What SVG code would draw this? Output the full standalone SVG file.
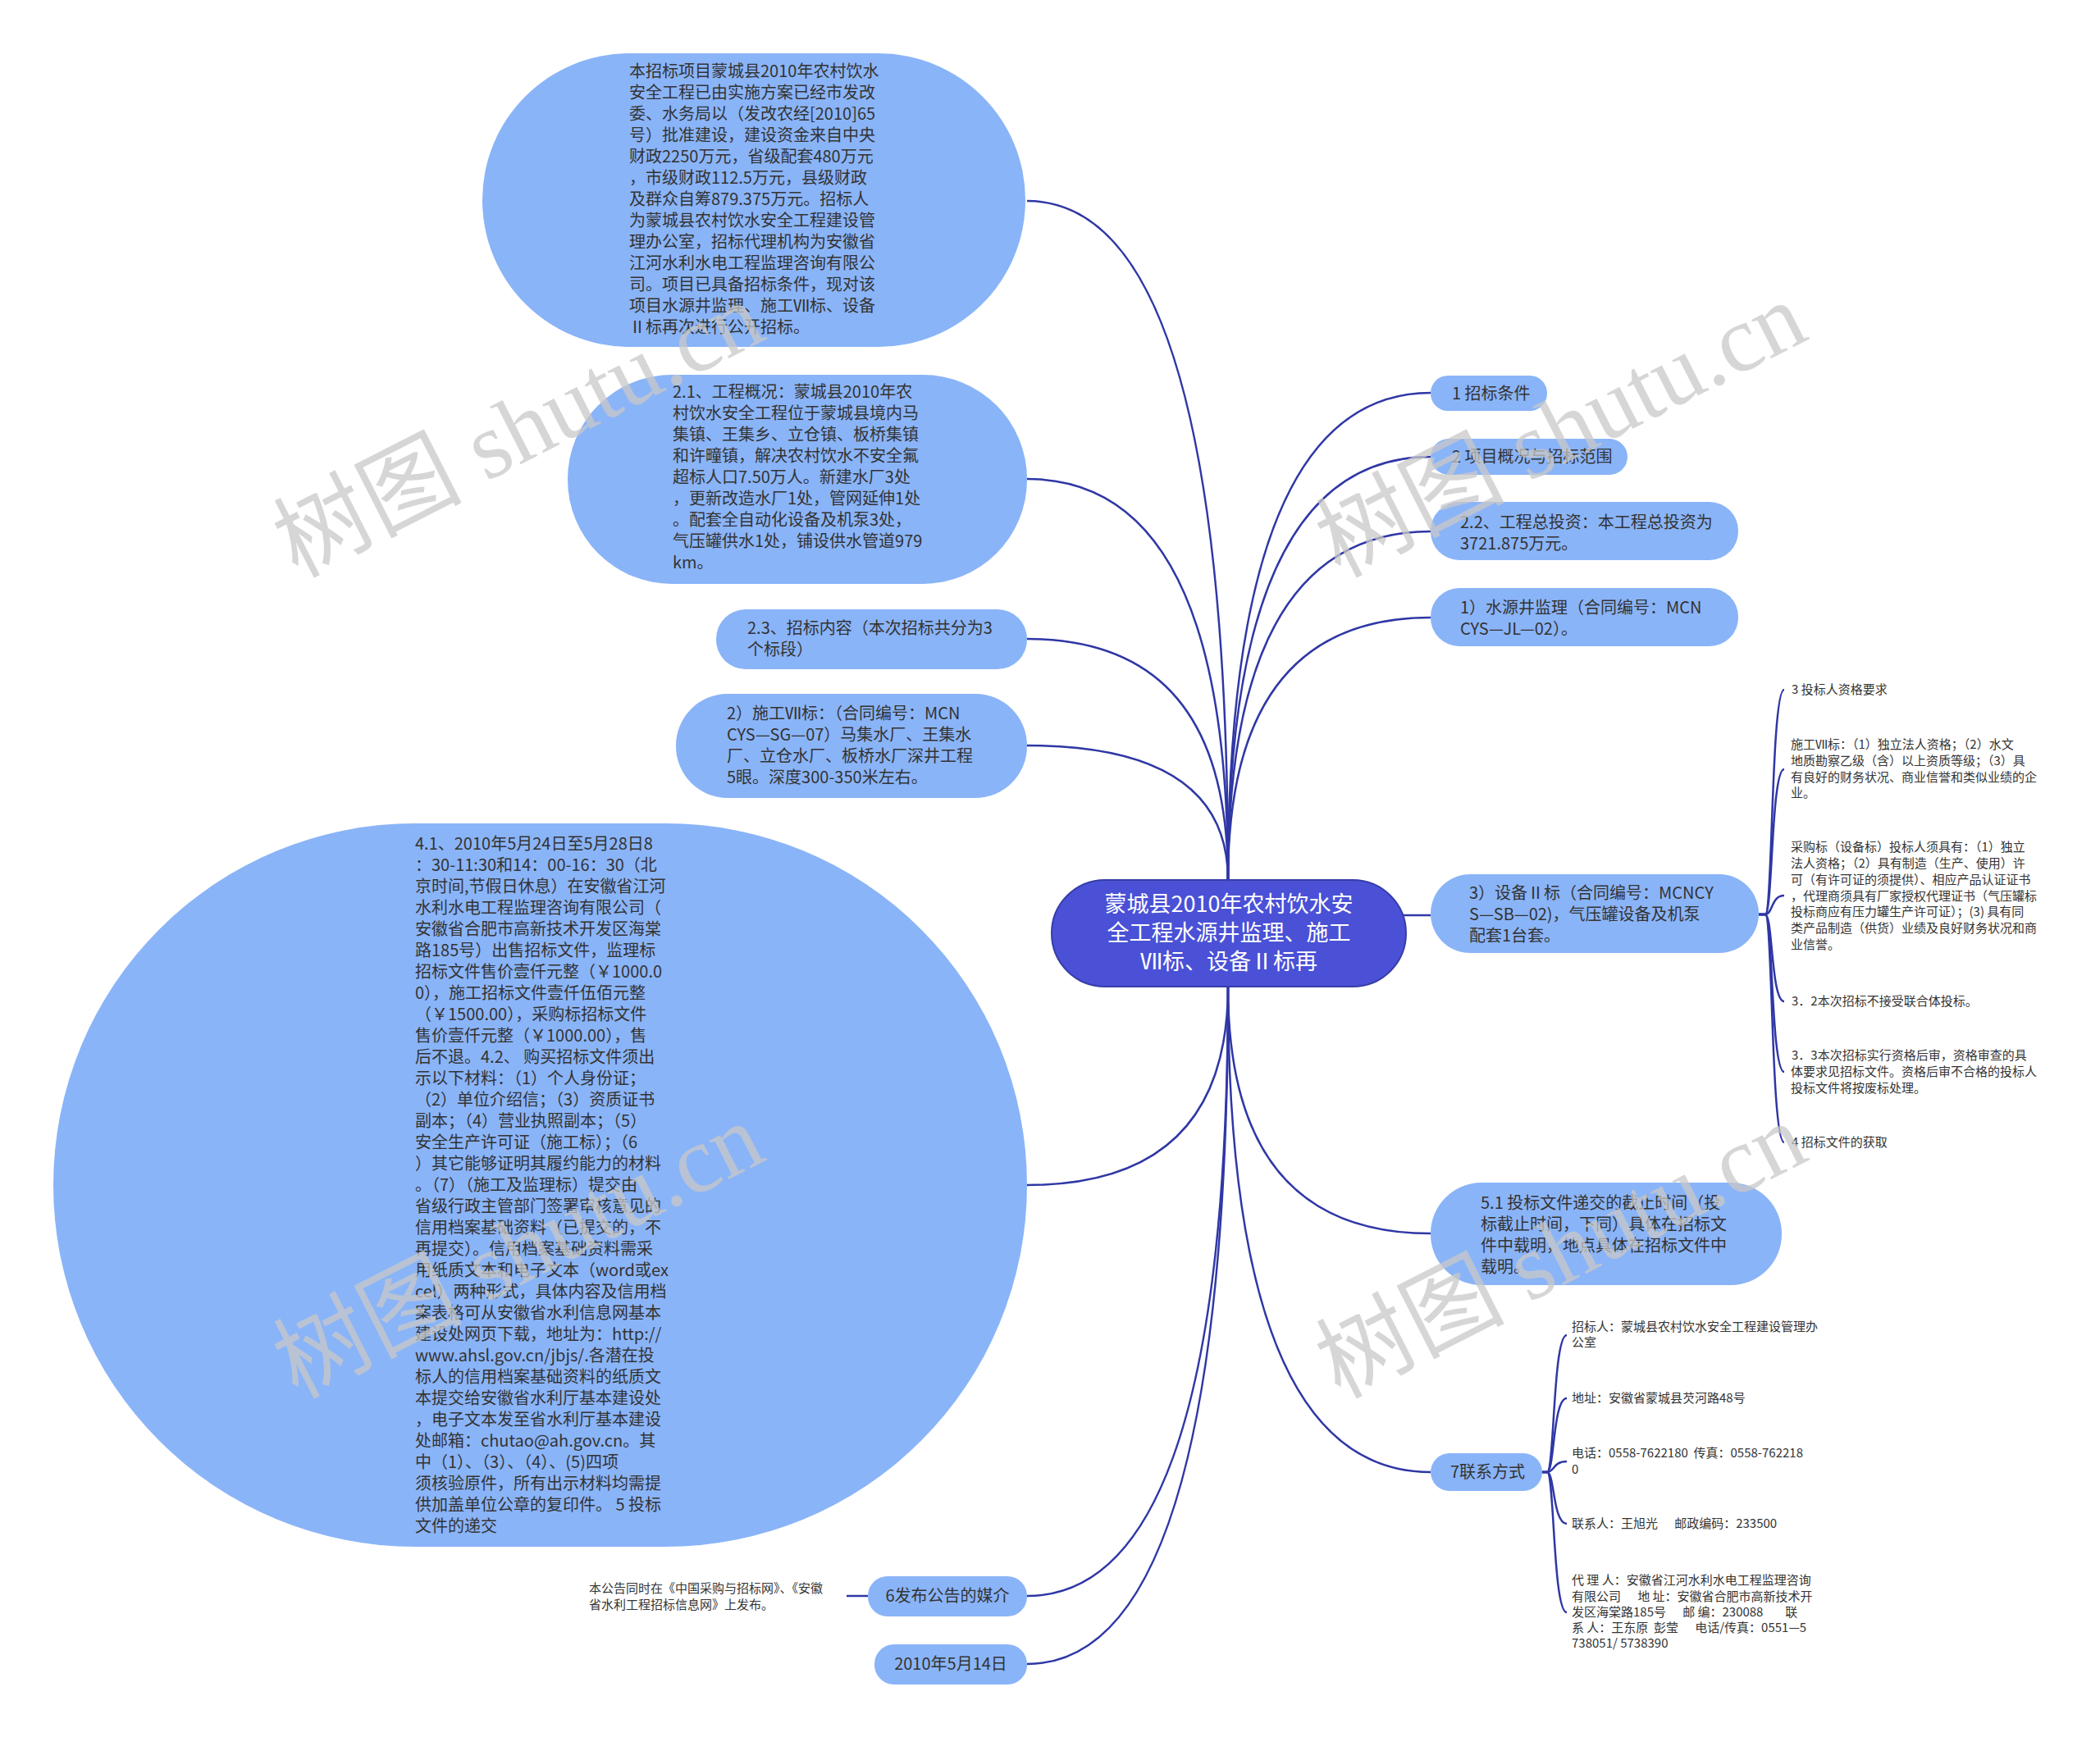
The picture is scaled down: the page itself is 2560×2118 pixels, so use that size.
<svg xmlns="http://www.w3.org/2000/svg" width="2560" height="2118" viewBox="0 0 2560 2118">
<style>
.nd{fill:#8ab4f8;}
.t{font-family:"Noto Sans CJK SC","Liberation Sans",sans-serif;font-size:20px;fill:#333;}
.s{font-family:"Noto Sans CJK SC","Liberation Sans",sans-serif;font-size:15px;fill:#333;white-space:pre;}
.ct{font-family:"Noto Sans CJK SC","Liberation Sans",sans-serif;font-size:27px;fill:#fff;text-anchor:middle;}
.e{fill:none;stroke:#2f37a5;stroke-width:2.5;}
.wm{font-family:"Liberation Serif","Noto Sans CJK SC",serif;font-size:115px;fill:#c8c8c8;fill-opacity:0.75;}
</style>
<rect width="2560" height="2118" fill="#fff"/>
<g id="connectors">
<path class="e" d="M1497,1073 Q1497,245 1252,245"/>
<path class="e" d="M1497,1073 Q1497,584 1252,584"/>
<path class="e" d="M1497,1073 Q1497,779 1252,779"/>
<path class="e" d="M1497,1073 Q1497,909 1252,909"/>
<path class="e" d="M1497,1073 Q1497,479 1744,479"/>
<path class="e" d="M1497,1073 Q1497,557 1744,557"/>
<path class="e" d="M1497,1073 Q1497,648 1744,648"/>
<path class="e" d="M1497,1073 Q1497,753 1744,753"/>
<path class="e" d="M1700,1116 L1744,1116"/>
<path class="e" d="M1497,1203 Q1497,1445 1252,1445"/>
<path class="e" d="M1497,1203 Q1497,1946 1252,1946"/>
<path class="e" d="M1497,1203 Q1497,2029 1252,2029"/>
<path class="e" d="M1497,1203 Q1497,1504 1744,1504"/>
<path class="e" d="M1497,1203 Q1497,1795 1744,1795"/>
<path class="e" d="M1032,1946 L1058,1946"/>
<path class="e" d="M2144,1115 L2152,1115 C2161,1115 2159,841 2175,841"/>
<path class="e" d="M2144,1115 L2152,1115 C2161,1115 2159,938 2175,938"/>
<path class="e" d="M2144,1115 L2152,1115 C2161,1115 2159,1092 2175,1092"/>
<path class="e" d="M2144,1115 L2152,1115 C2161,1115 2159,1221 2175,1221"/>
<path class="e" d="M2144,1115 L2152,1115 C2161,1115 2159,1307 2175,1307"/>
<path class="e" d="M2144,1115 L2152,1115 C2161,1115 2159,1393 2175,1393"/>
<path class="e" d="M1878,1795 L1886,1795 C1895,1795 1893,1628 1910,1628"/>
<path class="e" d="M1878,1795 L1886,1795 C1895,1795 1893,1705 1910,1705"/>
<path class="e" d="M1878,1795 L1886,1795 C1895,1795 1893,1782 1910,1782"/>
<path class="e" d="M1878,1795 L1886,1795 C1895,1795 1893,1858 1910,1858"/>
<path class="e" d="M1878,1795 L1886,1795 C1895,1795 1893,1966 1910,1966"/>
</g>
<g id="center">
<rect x="1282" y="1073" width="432" height="130" rx="65" fill="#4a51d6" stroke="#363da8" stroke-width="2"/>
<text class="ct"><tspan x="1498" y="1112">蒙城县2010年农村饮水安</tspan><tspan x="1498" y="1147">全工程水源井监理、施工</tspan><tspan x="1498" y="1182">Ⅶ标、设备Ⅱ标再</tspan></text>
</g>
<g id="node-a">
<rect class="nd" x="588" y="65" width="662" height="358" rx="179"/>
<text class="t"><tspan x="767" y="94">本招标项目蒙城县2010年农村饮水</tspan><tspan x="767" y="120">安全工程已由实施方案已经市发改</tspan><tspan x="767" y="146">委、水务局以（发改农经[2010]65</tspan><tspan x="767" y="172">号）批准建设，建设资金来自中央</tspan><tspan x="767" y="198">财政2250万元，省级配套480万元</tspan><tspan x="767" y="224">，市级财政112.5万元，县级财政</tspan><tspan x="767" y="250">及群众自筹879.375万元。招标人</tspan><tspan x="767" y="276">为蒙城县农村饮水安全工程建设管</tspan><tspan x="767" y="302">理办公室，招标代理机构为安徽省</tspan><tspan x="767" y="328">江河水利水电工程监理咨询有限公</tspan><tspan x="767" y="354">司。项目已具备招标条件，现对该</tspan><tspan x="767" y="380">项目水源井监理、施工Ⅶ标、设备</tspan><tspan x="767" y="406">Ⅱ标再次进行公开招标。</tspan></text>
</g>
<g id="node-b">
<rect class="nd" x="692" y="457" width="560" height="255" rx="127"/>
<text class="t"><tspan x="820" y="485">2.1、工程概况：蒙城县2010年农</tspan><tspan x="820" y="511">村饮水安全工程位于蒙城县境内马</tspan><tspan x="820" y="537">集镇、王集乡、立仓镇、板桥集镇</tspan><tspan x="820" y="563">和许疃镇，解决农村饮水不安全氟</tspan><tspan x="820" y="589">超标人口7.50万人。新建水厂3处</tspan><tspan x="820" y="615">，更新改造水厂1处，管网延伸1处</tspan><tspan x="820" y="641">。配套全自动化设备及机泵3处，</tspan><tspan x="820" y="667">气压罐供水1处，铺设供水管道979</tspan><tspan x="820" y="693">km。</tspan></text>
</g>
<g id="node-c">
<rect class="nd" x="873" y="743" width="379" height="73" rx="36"/>
<text class="t"><tspan x="911" y="773">2.3、招标内容（本次招标共分为3</tspan><tspan x="911" y="799">个标段）</tspan></text>
</g>
<g id="node-d">
<rect class="nd" x="824" y="846" width="428" height="127" rx="63"/>
<text class="t"><tspan x="886" y="877">2）施工Ⅶ标：（合同编号：MCN</tspan><tspan x="886" y="903">CYS—SG—07）马集水厂、王集水</tspan><tspan x="886" y="929">厂、立仓水厂、板桥水厂深井工程</tspan><tspan x="886" y="955">5眼。深度300-350米左右。</tspan></text>
</g>
<g id="node-e">
<rect class="nd" x="65" y="1004" width="1187" height="882" rx="441"/>
<text class="t"><tspan x="506" y="1036">4.1、2010年5月24日至5月28日8</tspan><tspan x="506" y="1062">：30-11:30和14：00-16：30（北</tspan><tspan x="506" y="1088">京时间,节假日休息）在安徽省江河</tspan><tspan x="506" y="1114">水利水电工程监理咨询有限公司（</tspan><tspan x="506" y="1140">安徽省合肥市高新技术开发区海棠</tspan><tspan x="506" y="1166">路185号）出售招标文件，监理标</tspan><tspan x="506" y="1192">招标文件售价壹仟元整（￥1000.0</tspan><tspan x="506" y="1218">0），施工招标文件壹仟伍佰元整</tspan><tspan x="506" y="1244">（￥1500.00），采购标招标文件</tspan><tspan x="506" y="1270">售价壹仟元整（￥1000.00），售</tspan><tspan x="506" y="1296">后不退。4.2、 购买招标文件须出</tspan><tspan x="506" y="1322">示以下材料：（1）个人身份证；</tspan><tspan x="506" y="1348">（2）单位介绍信；（3）资质证书</tspan><tspan x="506" y="1374">副本；（4）营业执照副本；（5）</tspan><tspan x="506" y="1400">安全生产许可证（施工标）；（6</tspan><tspan x="506" y="1426">）其它能够证明其履约能力的材料</tspan><tspan x="506" y="1452">。（7）（施工及监理标）提交由</tspan><tspan x="506" y="1478">省级行政主管部门签署审核意见的</tspan><tspan x="506" y="1504">信用档案基础资料（已提交的，不</tspan><tspan x="506" y="1530">再提交）。信用档案基础资料需采</tspan><tspan x="506" y="1556">用纸质文本和电子文本（word或ex</tspan><tspan x="506" y="1582">cel）两种形式，具体内容及信用档</tspan><tspan x="506" y="1608">案表格可从安徽省水利信息网基本</tspan><tspan x="506" y="1634">建设处网页下载，地址为：http://</tspan><tspan x="506" y="1660">www.ahsl.gov.cn/jbjs/.各潜在投</tspan><tspan x="506" y="1686">标人的信用档案基础资料的纸质文</tspan><tspan x="506" y="1712">本提交给安徽省水利厅基本建设处</tspan><tspan x="506" y="1738">，电子文本发至省水利厅基本建设</tspan><tspan x="506" y="1764">处邮箱：chutao@ah.gov.cn。其</tspan><tspan x="506" y="1790">中（1）、（3）、（4）、(5)四项</tspan><tspan x="506" y="1816">须核验原件，所有出示材料均需提</tspan><tspan x="506" y="1842">供加盖单位公章的复印件。 5 投标</tspan><tspan x="506" y="1868">文件的递交</tspan></text>
</g>
<g id="node-f">
<rect class="nd" x="1058" y="1922" width="194" height="49" rx="24"/>
<text class="t" x="1155" y="1953" text-anchor="middle">6发布公告的媒介</text>
</g>
<g id="node-f1">
<text class="s"><tspan x="718" y="1942">本公告同时在《中国采购与招标网》、《安徽</tspan><tspan x="718" y="1962">省水利工程招标信息网》上发布。</tspan></text>
</g>
<g id="node-g">
<rect class="nd" x="1066" y="2005" width="186" height="49" rx="24"/>
<text class="t" x="1159" y="2036" text-anchor="middle">2010年5月14日</text>
</g>
<g id="node-h">
<rect class="nd" x="1744" y="458" width="142" height="43" rx="21"/>
<text class="t" x="1770" y="487">1 招标条件</text>
</g>
<g id="node-i">
<rect class="nd" x="1744" y="535" width="240" height="44" rx="22"/>
<text class="t" x="1770" y="564">2 项目概况与招标范围</text>
</g>
<g id="node-j">
<rect class="nd" x="1744" y="612" width="375" height="71" rx="35"/>
<text class="t"><tspan x="1780" y="644">2.2、工程总投资：本工程总投资为</tspan><tspan x="1780" y="670">3721.875万元。</tspan></text>
</g>
<g id="node-k">
<rect class="nd" x="1744" y="717" width="375" height="71" rx="35"/>
<text class="t"><tspan x="1780" y="748">1）水源井监理（合同编号：MCN</tspan><tspan x="1780" y="774">CYS—JL—02）。</tspan></text>
</g>
<g id="node-l">
<rect class="nd" x="1744" y="1066" width="400" height="96" rx="48"/>
<text class="t"><tspan x="1791" y="1096">3）设备Ⅱ标（合同编号：MCNCY</tspan><tspan x="1791" y="1122">S—SB—02)，气压罐设备及机泵</tspan><tspan x="1791" y="1148">配套1台套。</tspan></text>
</g>
<g id="node-l1"><text class="s" x="2184" y="846">3 投标人资格要求</text></g>
<g id="node-l2"><text class="s"><tspan x="2183" y="913">施工Ⅶ标：（1）独立法人资格；（2）水文</tspan><tspan x="2183" y="933">地质勘察乙级（含）以上资质等级；（3）具</tspan><tspan x="2183" y="953">有良好的财务状况、商业信誉和类似业绩的企</tspan><tspan x="2183" y="972">业。</tspan></text></g>
<g id="node-l3"><text class="s"><tspan x="2183" y="1038">采购标（设备标）投标人须具有：（1）独立</tspan><tspan x="2183" y="1058">法人资格；（2）具有制造（生产、使用）许</tspan><tspan x="2183" y="1078">可（有许可证的须提供）、相应产品认证证书</tspan><tspan x="2183" y="1098">，代理商须具有厂家授权代理证书（气压罐标</tspan><tspan x="2183" y="1117">投标商应有压力罐生产许可证）；(3) 具有同</tspan><tspan x="2183" y="1137">类产品制造（供货）业绩及良好财务状况和商</tspan><tspan x="2183" y="1157">业信誉。</tspan></text></g>
<g id="node-l4"><text class="s" x="2184" y="1226">3．2本次招标不接受联合体投标。</text></g>
<g id="node-l5"><text class="s"><tspan x="2184" y="1292">3．3本次招标实行资格后审，资格审查的具</tspan><tspan x="2183" y="1312">体要求见招标文件。资格后审不合格的投标人</tspan><tspan x="2183" y="1332">投标文件将按废标处理。</tspan></text></g>
<g id="node-l6"><text class="s" x="2184" y="1398">4 招标文件的获取</text></g>
<g id="node-m">
<rect class="nd" x="1744" y="1442" width="428" height="125" rx="62"/>
<text class="t"><tspan x="1805" y="1474">5.1 投标文件递交的截止时间（投</tspan><tspan x="1805" y="1500">标截止时间，下同）具体在招标文</tspan><tspan x="1805" y="1526">件中载明，地点具体在招标文件中</tspan><tspan x="1805" y="1552">载明。</tspan></text>
</g>
<g id="node-n">
<rect class="nd" x="1744" y="1772" width="136" height="46" rx="23"/>
<text class="t" x="1768" y="1802">7联系方式</text>
</g>
<g id="node-n1"><text class="s"><tspan x="1916" y="1623">招标人：蒙城县农村饮水安全工程建设管理办</tspan><tspan x="1916" y="1642">公室</tspan></text></g>
<g id="node-n2"><text class="s" x="1916" y="1710">地址：安徽省蒙城县芡河路48号</text></g>
<g id="node-n3"><text class="s"><tspan x="1916" y="1777">电话：0558-7622180  传真：0558-762218</tspan><tspan x="1916" y="1797">0</tspan></text></g>
<g id="node-n4"><text class="s" x="1916" y="1863">联系人：王旭光      邮政编码：233500</text></g>
<g id="node-n5"><text class="s"><tspan x="1916" y="1932">代 理 人：安徽省江河水利水电工程监理咨询</tspan><tspan x="1916" y="1952">有限公司      地 址：安徽省合肥市高新技术开</tspan><tspan x="1916" y="1971">发区海棠路185号      邮 编：230088        联</tspan><tspan x="1916" y="1990">系 人：王东原  彭莹      电话/传真：0551—5</tspan><tspan x="1916" y="2009">738051/ 5738390</tspan></text></g>
<g id="watermarks">
<text class="wm" transform="translate(362,705) rotate(-27)">树图 shutu.cn</text>
<text class="wm" transform="translate(1633,705) rotate(-27)">树图 shutu.cn</text>
<text class="wm" transform="translate(362,1706) rotate(-27)">树图 shutu.cn</text>
<text class="wm" transform="translate(1633,1706) rotate(-27)">树图 shutu.cn</text>
</g>
</svg>
